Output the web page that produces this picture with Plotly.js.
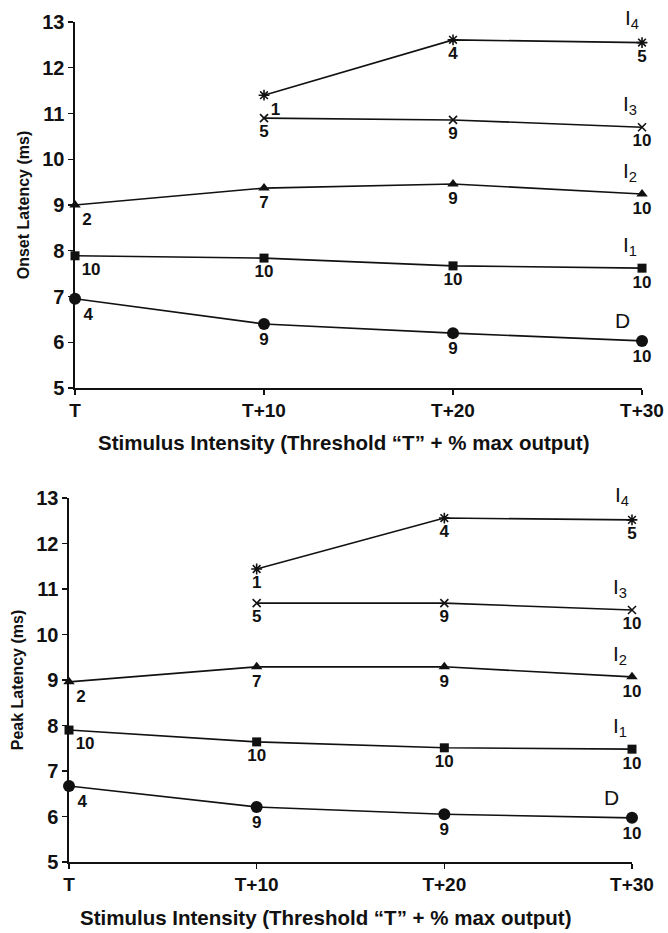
<!DOCTYPE html>
<html>
<head>
<meta charset="utf-8">
<script src="https://cdn.plot.ly/plotly-3.0.1.min.js"></script>
<style>
  html, body { margin: 0; padding: 0; background: #fff; }
  #chart { width: 668px; height: 933px; }
</style>
</head>
<body>
<div id="chart"></div>
<script>
// Stimulus intensity (threshold T + % of max output)
const intensity = [0, 10, 20, 30];
const intensityLabels = ['T', 'T+10', 'T+20', 'T+30'];
const xTitle = 'Stimulus Intensity (Threshold “T” + % max output)';

// Onset latency (ms)
const onsetD  = [6.95, 6.40, 6.20, 6.03];
const onsetI1 = [7.89, 7.84, 7.67, 7.62];
const onsetI2 = [9.00, 9.37, 9.46, 9.24];
const onsetI3 = [null, 10.90, 10.86, 10.70];
const onsetI4 = [null, 11.40, 12.61, 12.55];

// Peak latency (ms)
const peakD  = [6.67, 6.21, 6.05, 5.97];
const peakI1 = [7.90, 7.64, 7.51, 7.48];
const peakI2 = [8.96, 9.29, 9.29, 9.07];
const peakI3 = [null, 10.69, 10.69, 10.54];
const peakI4 = [null, 11.44, 12.56, 12.52];

// Number of subjects contributing to each point
const nD  = [4, 9, 9, 10];
const nI1 = [10, 10, 10, 10];
const nI2 = [2, 7, 9, 10];
const nI3 = [null, 5, 9, 10];
const nI4 = [null, 1, 4, 5];

const waveNames = ['D', 'I<sub>1</sub>', 'I<sub>2</sub>', 'I<sub>3</sub>', 'I<sub>4</sub>'];

const FONT = 'Liberation Sans, Arial, sans-serif';
const BLACK = '#111';

const styles = [
  { symbol: 'circle', size: 12, lw: 0 },
  { symbol: 'square', size: 9, lw: 0 },
  { symbol: 'triangle-up', size: 10, lw: 0 },
  { symbol: 'x-thin-open', size: 8, lw: 1.6 },
  { symbol: 'asterisk-open', size: 9, lw: 1.6 }
];

function makeTraces(series, counts, xa, ya, specialPos) {
  return series.map((ys, i) => {
    const st = styles[i];
    const pos = ys.map((v, j) => (j === 0 ? 'bottom right' : 'bottom center'));
    if (specialPos && specialPos[i]) {
      Object.keys(specialPos[i]).forEach(k => { pos[k] = specialPos[i][k]; });
    }
    return {
      x: intensity, y: ys, xaxis: xa, yaxis: ya,
      type: 'scatter', mode: 'lines+markers+text',
      connectgaps: false, cliponaxis: false,
      line: { color: BLACK, width: 1.6 },
      marker: { symbol: st.symbol, size: st.size, color: BLACK,
                line: { color: BLACK, width: st.lw } },
      text: counts[i].map(c => (c === null ? '' : String(c))),
      textposition: pos,
      textfont: { family: FONT, size: 17, color: BLACK, weight: 'bold' },
      hoverinfo: 'x+y', showlegend: false
    };
  });
}

const topSeries = [onsetD, onsetI1, onsetI2, onsetI3, onsetI4];
const botSeries = [peakD, peakI1, peakI2, peakI3, peakI4];
const counts = [nD, nI1, nI2, nI3, nI4];

const traces = [].concat(
  makeTraces(topSeries, counts, 'x', 'y', { 4: { 1: 'bottom right' } }),
  makeTraces(botSeries, counts, 'x2', 'y2', null)
);

// wave labels next to the last point of each curve
const labelShift = [
  { dx: -20, dy: 20 }, { dx: -12, dy: 22 }, { dx: -12, dy: 22 },
  { dx: -12, dy: 22 }, { dx: -10, dy: 24 }
];
const annotations = [];
[[topSeries, 'x', 'y'], [botSeries, 'x2', 'y2']].forEach(([ser, xr, yr]) => {
  ser.forEach((ys, i) => {
    annotations.push({
      x: intensity[3], y: ys[3], xref: xr, yref: yr,
      text: waveNames[i], showarrow: false,
      xshift: labelShift[i].dx, yshift: labelShift[i].dy,
      font: { family: FONT, size: 21, color: BLACK }
    });
  });
});

// x-axis titles, set slightly left of the axis centre
[{ x: 0.5135, y: 0.5252 }, { x: 0.488, y: 0.0171 }].forEach(p => {
  annotations.push({
    x: p.x, y: p.y, xref: 'paper', yref: 'paper',
    xanchor: 'center', yanchor: 'middle', showarrow: false,
    text: xTitle,
    font: { family: FONT, size: 20.5, color: BLACK, weight: 'bold' }
  });
});

function xAxis(domain, anchor) {
  return {
    domain: domain, anchor: anchor, range: [0, 30],
    tickmode: 'array', tickvals: intensity, ticktext: intensityLabels,
    ticks: 'outside', ticklen: 5, tickwidth: 1.4, tickcolor: BLACK,
    showline: true, linecolor: BLACK, linewidth: 1.6,
    showgrid: false, zeroline: false,
    tickfont: { family: FONT, size: 19, color: BLACK, weight: 'bold' },
    automargin: false, fixedrange: true
  };
}

function yAxis(domain, anchor, title) {
  return {
    domain: domain, anchor: anchor, range: [5, 13],
    tickmode: 'linear', tick0: 5, dtick: 1,
    ticks: 'outside', ticklen: 5, tickwidth: 1.4, tickcolor: BLACK,
    showline: true, linecolor: BLACK, linewidth: 1.6,
    showgrid: false, zeroline: false,
    tickfont: { family: FONT, size: 20, color: BLACK, weight: 'bold' },
    title: { text: title,
             font: { family: FONT, size: 16, color: BLACK, weight: 'bold' },
             standoff: 8 },
    automargin: false, fixedrange: true
  };
}

const layout = {
  width: 668, height: 933,
  margin: { l: 0, r: 0, t: 0, b: 0 },
  paper_bgcolor: '#fff', plot_bgcolor: '#fff',
  xaxis: xAxis([0.1123, 0.9611], 'y'),
  yaxis: yAxis([0.5841, 0.9764], 'x', 'Onset Latency (ms)'),
  xaxis2: xAxis([0.1033, 0.9461], 'y2'),
  yaxis2: yAxis([0.0761, 0.4662], 'x2', 'Peak Latency (ms)'),
  annotations: annotations,
  showlegend: false
};

Plotly.newPlot('chart', traces, layout, { staticPlot: true, displayModeBar: false });
</script>
</body>
</html>
